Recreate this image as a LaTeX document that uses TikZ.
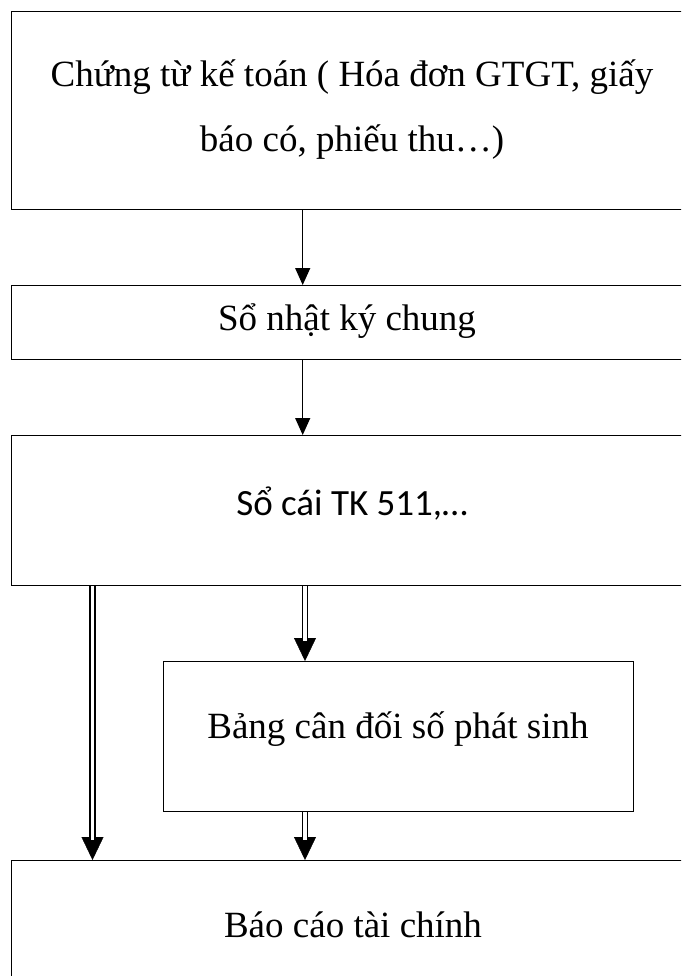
\documentclass[tikz,border=0pt]{standalone}
\usepackage{fontspec}
\setmainfont{Liberation Serif}
\newfontfamily\calfont{Carlito}
\usetikzlibrary{arrows.meta}
\begin{document}
\begin{tikzpicture}[x=1pt,y=-1pt,
  box/.style={draw, line width=1.3pt, rectangle, inner sep=0pt, anchor=north west},
  txt/.style={font=\fontsize{37}{65}\selectfont, anchor=base, inner sep=0pt},
  arr/.style={line width=1.3pt, -{Triangle[length=17pt,width=15pt]}},
  dline/.style={double, double distance=3.4pt, line width=1.4pt, shorten >=20pt},
  dtip/.style={line width=0.4pt, -{Triangle[length=23pt,width=22pt]}}]
\useasboundingbox (0,0) rectangle (681,976);
\clip (0,0) rectangle (681,976);
\fill[white] (0,0) rectangle (681,976);
% boxes
\node[box, minimum width=682pt, minimum height=198pt] (b1) at (11,11) {};
\node[box, minimum width=682pt, minimum height=74pt] (b2) at (11,285) {};
\node[box, minimum width=682pt, minimum height=150pt] (b3) at (11,435) {};
\node[box, minimum width=470pt, minimum height=150pt] (b4) at (163,661) {};
\node[box, minimum width=682pt, minimum height=200pt] (b5) at (11,860) {};
% texts
\node[txt] (t1a) at (352,87) {Chứng từ kế toán ( Hóa đơn GTGT, giấy};
\node[txt] (t1b) at (352,152) {báo có, phiếu thu…)};
\node[txt] (t2) at (347,330) {Sổ nhật ký chung};
\node[txt, font=\calfont\fontsize{37}{45}\selectfont] (t3) at (352,515) {Sổ cái TK 511,…};
\node[txt] (t4) at (398,738) {Bảng cân đối số phát sinh};
\node[txt] (t5) at (353,937) {Báo cáo tài chính};
% arrow columns
\coordinate (a1) at (302.7,0);
\coordinate (a2) at (92.5,0);
\coordinate (a3) at (305,0);
% connectors
\draw[arr] (b1.south -| a1) -- (b2.north -| a1);
\draw[arr] (b2.south -| a1) -- (b3.north -| a1);
\draw[dtip] (b3.south -| a2) -- (b5.north -| a2);
\draw[dline] (b3.south -| a2) -- (b5.north -| a2);
\draw[dtip] (b3.south -| a3) -- (b4.north -| a3);
\draw[dline] (b3.south -| a3) -- (b4.north -| a3);
\draw[dtip] (b4.south -| a3) -- (b5.north -| a3);
\draw[dline] (b4.south -| a3) -- (b5.north -| a3);
\end{tikzpicture}
\end{document}
